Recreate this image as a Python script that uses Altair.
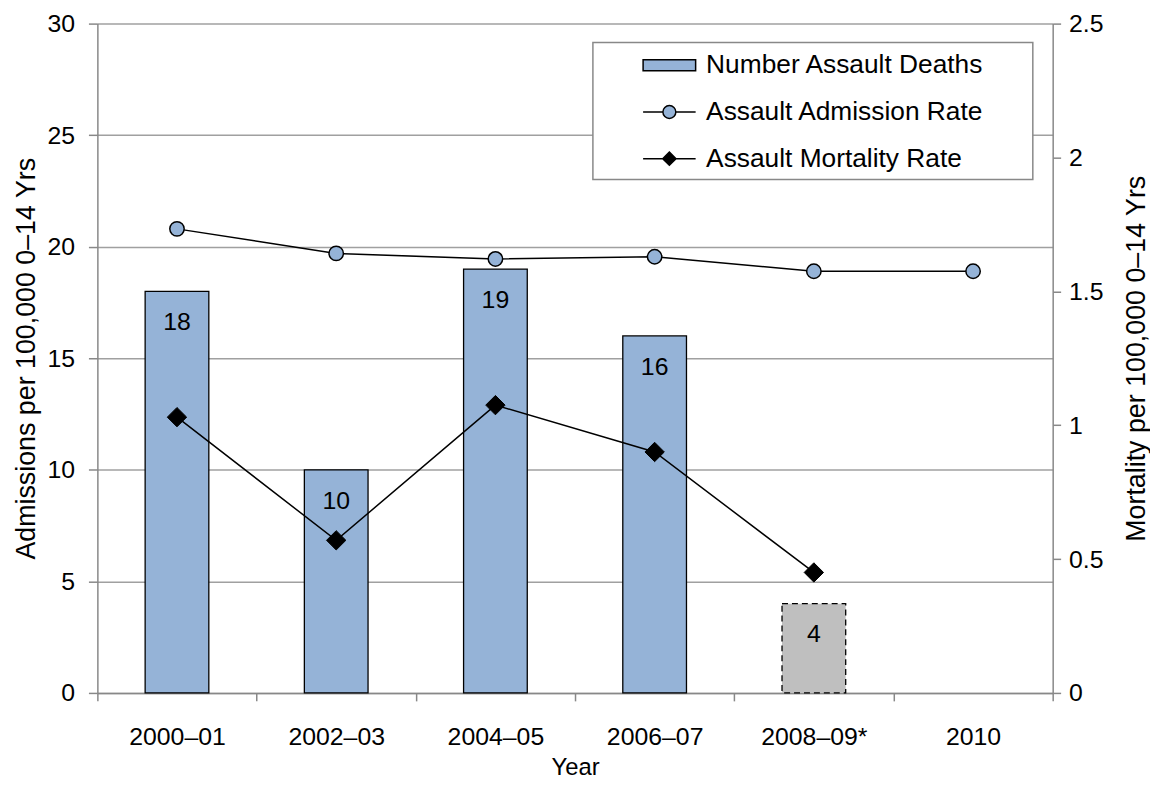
import altair as alt
import pandas as pd

# ---- data ----
years = ["2000–01", "2002–03", "2004–05", "2006–07", "2008–09*", "2010"]
deaths = [18, 10, 19, 16, 4, None]
admission_rate = [20.8, 19.7, 19.45, 19.55, 18.9, 18.9]
mortality_rate = [1.03, 0.57, 1.075, 0.90, 0.45, None]
provisional = [False, False, False, False, True, False]

series_names = ["Number Assault Deaths", "Assault Admission Rate", "Assault Mortality Rate"]

FONT = "Liberation Sans, Arial, Helvetica, sans-serif"
GRID = "#a0a0a0"
AXIS = "#888888"
BLUE = "#95b3d7"
GREYBAR = "#bfbfbf"

df = pd.DataFrame({
    "year": years,
    "deaths": deaths,
    "adm": admission_rate,
    "mort": mortality_rate,
    "prov": provisional,
})
bars_df = df[df["deaths"].notna()]
mort_df = df[df["mort"].notna()]

x = alt.X(
    "year:N",
    sort=years,
    scale=alt.Scale(domain=years, paddingInner=0, paddingOuter=0),
    axis=alt.Axis(
        title="Year", labelAngle=0, tickBand="extent", tickSize=8,
        labelPadding=24, titlePadding=6, domainColor=AXIS, tickColor=AXIS,
        domainWidth=1.5, tickWidth=1.5, labelFontSize=25, titleFontSize=24,
        grid=False,
    ),
)

left_title = "Admissions per 100,000 0–14 Yrs"
left_scale = alt.Scale(domain=[0, 30], nice=False)
left_axis = alt.Axis(
    title=left_title, values=[0, 5, 10, 15, 20, 25, 30], grid=True,
    gridColor=GRID, gridWidth=1.5, domainColor=AXIS, tickColor=AXIS,
    domainWidth=1.5, tickWidth=1.5, tickSize=9, labelPadding=14,
    labelFontSize=25, titleFontSize=27, titlePadding=7,
)

def ly(field):
    return alt.Y(field, type="quantitative", scale=left_scale, axis=left_axis, title=left_title)

base_bars = alt.Chart(bars_df)

bars_main = base_bars.transform_filter("!datum.prov").mark_bar(
    width=alt.RelativeBandSize(0.4), fill=BLUE, stroke="black", strokeWidth=1.3
).encode(x=x, y=ly("deaths"))

bars_prov = base_bars.transform_filter("datum.prov").mark_bar(
    width=alt.RelativeBandSize(0.4), fill=GREYBAR, stroke="black",
    strokeWidth=1.3, strokeDash=[6, 4]
).encode(x=x, y=ly("deaths"))

bar_text = base_bars.mark_text(
    dy=31, fontSize=25, font=FONT, color="black", baseline="middle"
).encode(x=x, y=ly("deaths"), text=alt.Text("deaths:Q", format="d"))

adm_line = alt.Chart(df).mark_line(color="black", strokeWidth=1.5).encode(x=x, y=ly("adm"))
adm_pts = alt.Chart(df).mark_point(
    shape="circle", size=210, filled=True, fill=BLUE, stroke="black",
    strokeWidth=1.5, opacity=1
).encode(x=x, y=ly("adm"))

right_title = "Mortality per 100,000  0–14 Yrs"
right_scale = alt.Scale(domain=[0, 2.5], nice=False)
right_axis = alt.Axis(
    orient="right", title=right_title, values=[0, 0.5, 1, 1.5, 2, 2.5],
    format="~g", grid=False, domainColor=AXIS, tickColor=AXIS,
    domainWidth=1.5, tickWidth=1.5, tickSize=8, labelPadding=8,
    labelFontSize=25, titleFontSize=27, titlePadding=48, titleAngle=270,
)

def ry():
    return alt.Y("mort:Q", scale=right_scale, axis=right_axis, title=right_title)

mort_line = alt.Chart(mort_df).mark_line(color="black", strokeWidth=1.5).encode(x=x, y=ry())
mort_pts = alt.Chart(mort_df).mark_point(
    shape="diamond", size=380, filled=True, fill="black", stroke="black",
    strokeWidth=1, opacity=1
).encode(x=x, y=ry())

# ---- legend ----
legend_df = pd.DataFrame({"series": series_names})
paths = [
    "M-1.15,-0.24H1.15V0.24H-1.15Z",
    "M-1.15,0H-0.283M0.283,0H1.15M-0.283,0A0.283,0.283 0 1,1 0.283,0A0.283,0.283 0 1,1 -0.283,0Z",
    "M-1.15,0H-0.29M0.29,0H1.15M0,-0.29L0.29,0L0,0.29L-0.29,0Z",
]
leg = alt.Legend(
    title=None, orient="none", legendX=552, legendY=18, symbolSize=2116,
    symbolStrokeWidth=1.5, symbolOpacity=1,
    labelFontSize=26.5, labelFont=FONT, labelColor="black", labelOffset=13,
    rowPadding=9, padding=0, labelLimit=0,
)
legend_layer = alt.Chart(legend_df).mark_point(
    filled=False, opacity=0, strokeWidth=1.5
).encode(
    fill=alt.Fill("series:N", scale=alt.Scale(domain=series_names, range=[BLUE, BLUE, "black"]), legend=leg, sort=series_names),
    stroke=alt.Stroke("series:N", scale=alt.Scale(domain=series_names, range=["black", "black", "black"]), legend=leg, sort=series_names),
    shape=alt.Shape("series:N", scale=alt.Scale(domain=series_names, range=paths), legend=leg, sort=series_names),
)

frame = alt.Chart(pd.DataFrame({"a": [0]})).mark_rect(
    fill="white", stroke=AXIS, strokeWidth=1.5
).encode(x=alt.value(499), x2=alt.value(942), y=alt.value(19), y2=alt.value(157))

left = alt.layer(bars_main, bars_prov, bar_text, adm_line, adm_pts)
right = alt.layer(mort_line, mort_pts)

chart = alt.layer(left, right, frame, legend_layer).resolve_scale(
    y="independent"
).properties(
    width=962, height=674,
    autosize=alt.AutoSizeParams(type="none"),
    padding={"left": 90, "top": 13, "right": 98, "bottom": 90},
).configure_view(stroke=None).configure_axis(
    labelFont=FONT, titleFont=FONT, labelColor="black", titleColor="black",
    titleFontWeight="normal",
)

chart.save("out.html", embed_options={"renderer": "svg", "actions": False})
